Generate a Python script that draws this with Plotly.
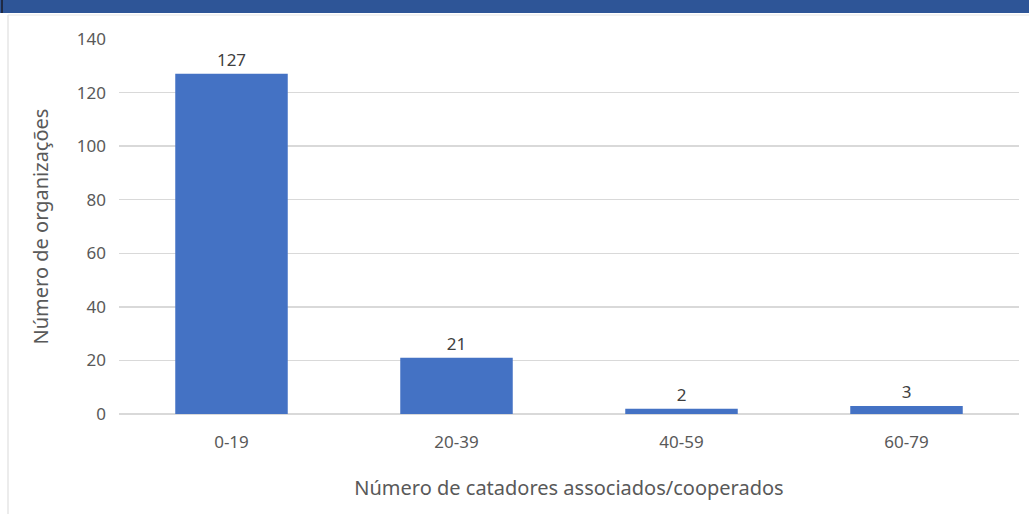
import plotly.graph_objects as go

categories = ["0-19", "20-39", "40-59", "60-79"]
values = [127, 21, 2, 3]
y_ticks = [0, 20, 40, 60, 80, 100, 120, 140]

W, H = 1029, 514
ML, MR, MT, MB = 119, 10, 39, 100
PW, PH = W - ML - MR, H - MT - MB

def px_x(p):
    return (p - ML) / PW

def px_y(p):
    return 1 - (p - MT) / PH

fig = go.Figure()
fig.add_trace(go.Bar(
    x=categories, y=values,
    marker=dict(color="#4472C4", line=dict(width=0)),
    text=[str(v) for v in values], textposition="outside",
    textfont=dict(family="Noto Sans", size=17, color="#404040"),
    cliponaxis=False, hoverinfo="skip",
))

font_family = "Noto Sans"
fig.update_layout(
    width=W, height=H,
    margin=dict(l=ML, r=MR, t=MT, b=MB, pad=0),
    paper_bgcolor="white", plot_bgcolor="white",
    bargap=0.5, showlegend=False,
    font=dict(family=font_family, color="#595959", size=17),
    xaxis=dict(
        title=dict(text="Número de catadores associados/cooperados", font=dict(size=20, color="#595959"), standoff=28),
        tickfont=dict(size=17, color="#595959"),
        showgrid=False, showline=False, ticks="", ticklen=0,
        ticklabelstandoff=16,
    ),
    yaxis=dict(
        title=dict(text="Número de organizações", font=dict(size=20, color="#595959"), standoff=22),
        range=[0, 140], tickvals=y_ticks, ticktext=[str(t) for t in y_ticks],
        tickfont=dict(size=17, color="#595959"),
        showgrid=True, gridcolor="#D9D9D9", gridwidth=1.5,
        zeroline=True, zerolinecolor="#D9D9D9", zerolinewidth=1.5,
        showline=False, ticks="", ticklabelstandoff=12,
    ),
    shapes=[
        dict(type="rect", xref="paper", yref="paper",
             x0=px_x(-5), x1=px_x(W + 5), y0=px_y(13), y1=px_y(-5),
             fillcolor="#2E5597", line=dict(width=0), layer="above"),
        dict(type="line", xref="paper", yref="paper",
             x0=px_x(8), x1=px_x(8), y0=px_y(15), y1=px_y(H + 5),
             line=dict(color="#D9D9D9", width=1)),
        dict(type="line", xref="paper", yref="paper",
             x0=px_x(8), x1=px_x(W + 5), y0=px_y(15), y1=px_y(15),
             line=dict(color="#E6E6E6", width=1)),
        dict(type="line", xref="paper", yref="paper",
             x0=px_x(2), x1=px_x(2), y0=px_y(13), y1=px_y(-5),
             line=dict(color="#1F2A44", width=2)),
    ],
)

fig.write_html(
    "out.html",
    config={"displayModeBar": False, "staticPlot": True},
    post_script="document.body.style.margin='0';document.body.style.overflow='hidden';",
)
